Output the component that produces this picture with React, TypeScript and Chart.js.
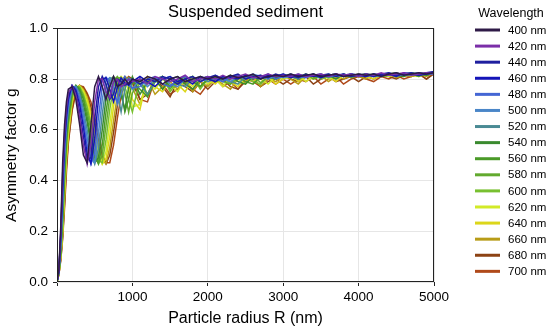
import React, { useEffect, useRef } from 'react';
import { Chart, registerables } from 'chart.js';

Chart.register(...registerables);

// Particle radius grid (nm)
const radiusNm = [
  0, 25, 50, 75, 100, 125, 150, 200, 250, 300, 350, 400, 450, 500, 550, 600, 650, 700, 750, 800, 850, 900, 950, 1000,
  1100, 1200, 1300, 1400, 1500, 1600, 1700, 1800, 1900, 2000,
  2100, 2200, 2300, 2400, 2500, 2600, 2700, 2800, 2900, 3000,
  3100, 3200, 3300, 3400, 3500, 3600, 3700, 3800, 3900, 4000,
  4100, 4200, 4300, 4400, 4500, 4600, 4700, 4800, 4900, 5000,
];

const wavelengthLabels = [
  '400 nm', '420 nm', '440 nm', '460 nm', '480 nm', '500 nm', '520 nm', '540 nm',
  '560 nm', '580 nm', '600 nm', '620 nm', '640 nm', '660 nm', '680 nm', '700 nm',
];

const wavelengthColors = [
  '#2e1a47', '#7b2fa8', '#1f1f9f', '#1414b8', '#4466d4', '#4a86c8', '#4a8a94', '#3a8a2e',
  '#4a9a28', '#62aa2e', '#78c030', '#d2ea28', '#dcd61a', '#b89c18', '#8c4214', '#b04a1a',
];

const g400 = [0, 0.05, 0.22, 0.47, 0.62, 0.71, 0.76, 0.77, 0.72, 0.62, 0.50, 0.47, 0.62, 0.77, 0.81, 0.77, 0.72, 0.77, 0.81, 0.77, 0.78, 0.80, 0.78, 0.80,
  0.79, 0.81, 0.80, 0.78, 0.80, 0.81, 0.79, 0.80, 0.81, 0.80,
  0.81, 0.80, 0.815, 0.805, 0.81, 0.82, 0.80, 0.81, 0.815, 0.81,
  0.82, 0.81, 0.815, 0.82, 0.81, 0.815, 0.82, 0.81, 0.815, 0.82,
  0.815, 0.82, 0.81, 0.82, 0.825, 0.815, 0.82, 0.825, 0.82, 0.825];
const g420 = [0, 0.046, 0.20, 0.43, 0.59, 0.69, 0.745, 0.772, 0.735, 0.65, 0.54, 0.465, 0.54, 0.71, 0.80, 0.80, 0.75, 0.725, 0.79, 0.80, 0.77, 0.78, 0.80, 0.79,
  0.80, 0.78, 0.81, 0.80, 0.79, 0.80, 0.815, 0.79, 0.80, 0.81,
  0.80, 0.815, 0.80, 0.81, 0.82, 0.805, 0.81, 0.82, 0.81, 0.815,
  0.81, 0.82, 0.81, 0.815, 0.82, 0.81, 0.82, 0.815, 0.82, 0.81,
  0.82, 0.815, 0.825, 0.815, 0.82, 0.825, 0.815, 0.82, 0.825, 0.82];
const g440 = [0, 0.045, 0.19, 0.40, 0.57, 0.67, 0.735, 0.774, 0.75, 0.67, 0.575, 0.48, 0.49, 0.64, 0.77, 0.81, 0.78, 0.72, 0.74, 0.80, 0.79, 0.775, 0.785, 0.80,
  0.78, 0.80, 0.79, 0.81, 0.80, 0.78, 0.80, 0.81, 0.79, 0.805,
  0.815, 0.80, 0.81, 0.82, 0.80, 0.81, 0.815, 0.805, 0.82, 0.81,
  0.815, 0.805, 0.82, 0.81, 0.815, 0.82, 0.81, 0.82, 0.81, 0.815,
  0.82, 0.81, 0.82, 0.825, 0.815, 0.82, 0.825, 0.815, 0.825, 0.83];
const g460 = [0, 0.043, 0.18, 0.37, 0.55, 0.65, 0.72, 0.775, 0.756, 0.70, 0.61, 0.505, 0.467, 0.565, 0.72, 0.80, 0.805, 0.76, 0.71, 0.765, 0.805, 0.785, 0.775, 0.79,
  0.81, 0.79, 0.77, 0.80, 0.81, 0.79, 0.80, 0.78, 0.81, 0.80,
  0.79, 0.81, 0.805, 0.80, 0.815, 0.81, 0.80, 0.815, 0.81, 0.82,
  0.805, 0.815, 0.81, 0.82, 0.805, 0.815, 0.82, 0.81, 0.82, 0.815,
  0.81, 0.82, 0.815, 0.82, 0.81, 0.825, 0.82, 0.815, 0.82, 0.825];
const g480 = [0, 0.042, 0.165, 0.345, 0.52, 0.635, 0.71, 0.77, 0.763, 0.72, 0.635, 0.54, 0.465, 0.51, 0.65, 0.77, 0.807, 0.79, 0.74, 0.71, 0.785, 0.81, 0.775, 0.765,
  0.77, 0.80, 0.81, 0.78, 0.77, 0.80, 0.81, 0.79, 0.80, 0.81,
  0.80, 0.79, 0.81, 0.815, 0.80, 0.81, 0.805, 0.82, 0.80, 0.81,
  0.82, 0.81, 0.805, 0.815, 0.82, 0.81, 0.815, 0.82, 0.81, 0.82,
  0.815, 0.81, 0.82, 0.815, 0.825, 0.815, 0.82, 0.825, 0.82, 0.825];
const g500 = [0, 0.04, 0.15, 0.32, 0.50, 0.62, 0.69, 0.765, 0.77, 0.73, 0.66, 0.57, 0.485, 0.47, 0.585, 0.72, 0.795, 0.805, 0.77, 0.70, 0.74, 0.795, 0.80, 0.76,
  0.80, 0.77, 0.80, 0.81, 0.78, 0.77, 0.80, 0.81, 0.79, 0.80,
  0.815, 0.80, 0.79, 0.81, 0.805, 0.82, 0.81, 0.80, 0.815, 0.805,
  0.81, 0.82, 0.81, 0.815, 0.805, 0.82, 0.81, 0.815, 0.82, 0.81,
  0.82, 0.815, 0.81, 0.825, 0.815, 0.82, 0.815, 0.825, 0.82, 0.82];
const g520 = [0, 0.038, 0.14, 0.30, 0.48, 0.60, 0.675, 0.762, 0.772, 0.745, 0.68, 0.60, 0.51, 0.465, 0.525, 0.66, 0.77, 0.805, 0.80, 0.75, 0.67, 0.76, 0.805, 0.795,
  0.78, 0.74, 0.79, 0.80, 0.81, 0.78, 0.77, 0.80, 0.81, 0.79,
  0.80, 0.81, 0.79, 0.78, 0.81, 0.80, 0.815, 0.80, 0.81, 0.82,
  0.81, 0.80, 0.815, 0.81, 0.82, 0.805, 0.815, 0.81, 0.82, 0.815,
  0.81, 0.82, 0.815, 0.82, 0.81, 0.82, 0.825, 0.815, 0.825, 0.82];
const g540 = [0, 0.037, 0.13, 0.275, 0.46, 0.58, 0.67, 0.757, 0.774, 0.752, 0.70, 0.63, 0.54, 0.47, 0.49, 0.60, 0.725, 0.795, 0.81, 0.78, 0.735, 0.68, 0.765, 0.81,
  0.74, 0.79, 0.80, 0.76, 0.80, 0.81, 0.78, 0.76, 0.80, 0.81,
  0.79, 0.80, 0.815, 0.79, 0.78, 0.81, 0.80, 0.815, 0.805, 0.81,
  0.82, 0.805, 0.81, 0.82, 0.81, 0.815, 0.80, 0.82, 0.81, 0.815,
  0.82, 0.81, 0.815, 0.82, 0.815, 0.81, 0.825, 0.82, 0.815, 0.825];
const g560 = [0, 0.036, 0.12, 0.255, 0.43, 0.565, 0.645, 0.745, 0.775, 0.76, 0.72, 0.65, 0.565, 0.49, 0.467, 0.54, 0.67, 0.77, 0.806, 0.80, 0.76, 0.67, 0.72, 0.79,
  0.76, 0.73, 0.80, 0.81, 0.77, 0.79, 0.81, 0.79, 0.77, 0.80,
  0.81, 0.79, 0.80, 0.81, 0.79, 0.78, 0.81, 0.805, 0.80, 0.815,
  0.81, 0.80, 0.82, 0.81, 0.805, 0.815, 0.82, 0.81, 0.815, 0.81,
  0.82, 0.815, 0.81, 0.82, 0.825, 0.815, 0.82, 0.81, 0.825, 0.82];
const g580 = [0, 0.035, 0.115, 0.24, 0.41, 0.55, 0.63, 0.735, 0.773, 0.765, 0.73, 0.67, 0.60, 0.51, 0.465, 0.50, 0.615, 0.73, 0.79, 0.81, 0.79, 0.745, 0.67, 0.745,
  0.80, 0.73, 0.79, 0.81, 0.76, 0.80, 0.78, 0.81, 0.77, 0.80,
  0.81, 0.79, 0.78, 0.81, 0.80, 0.815, 0.785, 0.81, 0.80, 0.815,
  0.805, 0.81, 0.82, 0.80, 0.81, 0.815, 0.81, 0.82, 0.805, 0.815,
  0.82, 0.81, 0.815, 0.82, 0.81, 0.82, 0.815, 0.825, 0.815, 0.825];
const g600 = [0, 0.033, 0.11, 0.22, 0.39, 0.52, 0.62, 0.725, 0.77, 0.77, 0.74, 0.69, 0.62, 0.54, 0.48, 0.47, 0.56, 0.68, 0.77, 0.805, 0.805, 0.77, 0.72, 0.67,
  0.80, 0.74, 0.79, 0.81, 0.75, 0.79, 0.80, 0.81, 0.76, 0.80,
  0.80, 0.81, 0.78, 0.80, 0.815, 0.79, 0.78, 0.81, 0.80, 0.81,
  0.815, 0.80, 0.81, 0.82, 0.80, 0.81, 0.815, 0.81, 0.82, 0.81,
  0.815, 0.82, 0.81, 0.815, 0.82, 0.81, 0.825, 0.815, 0.82, 0.82];
const g620 = [0, 0.032, 0.105, 0.21, 0.37, 0.505, 0.60, 0.72, 0.767, 0.772, 0.75, 0.705, 0.64, 0.565, 0.495, 0.465, 0.515, 0.625, 0.73, 0.79, 0.81, 0.795, 0.755, 0.69,
  0.70, 0.79, 0.76, 0.80, 0.78, 0.75, 0.80, 0.77, 0.81, 0.78,
  0.80, 0.77, 0.81, 0.80, 0.78, 0.81, 0.80, 0.78, 0.81, 0.80,
  0.81, 0.815, 0.79, 0.81, 0.82, 0.80, 0.81, 0.815, 0.81, 0.82,
  0.81, 0.815, 0.82, 0.81, 0.82, 0.815, 0.82, 0.81, 0.825, 0.82];
const g640 = [0, 0.031, 0.10, 0.20, 0.345, 0.49, 0.585, 0.71, 0.763, 0.773, 0.755, 0.72, 0.66, 0.59, 0.515, 0.465, 0.485, 0.575, 0.69, 0.77, 0.802, 0.805, 0.78, 0.72,
  0.68, 0.81, 0.77, 0.75, 0.80, 0.78, 0.75, 0.80, 0.77, 0.80,
  0.78, 0.81, 0.79, 0.77, 0.81, 0.79, 0.805, 0.81, 0.78, 0.80,
  0.815, 0.79, 0.81, 0.80, 0.815, 0.81, 0.79, 0.815, 0.81, 0.82,
  0.81, 0.80, 0.815, 0.82, 0.81, 0.82, 0.815, 0.81, 0.82, 0.825];
const g660 = [0, 0.03, 0.095, 0.19, 0.33, 0.475, 0.57, 0.70, 0.76, 0.775, 0.76, 0.73, 0.67, 0.615, 0.54, 0.48, 0.467, 0.53, 0.635, 0.735, 0.79, 0.81, 0.80, 0.765,
  0.70, 0.80, 0.74, 0.77, 0.79, 0.76, 0.80, 0.75, 0.79, 0.77,
  0.80, 0.78, 0.76, 0.80, 0.79, 0.81, 0.77, 0.80, 0.79, 0.81,
  0.80, 0.78, 0.81, 0.80, 0.815, 0.79, 0.81, 0.80, 0.815, 0.81,
  0.80, 0.815, 0.81, 0.82, 0.805, 0.815, 0.81, 0.82, 0.81, 0.825];
const g680 = [0, 0.03, 0.09, 0.18, 0.31, 0.455, 0.555, 0.68, 0.755, 0.775, 0.765, 0.74, 0.69, 0.63, 0.56, 0.495, 0.465, 0.50, 0.59, 0.695, 0.77, 0.80, 0.807, 0.785,
  0.72, 0.74, 0.80, 0.77, 0.73, 0.79, 0.77, 0.75, 0.79, 0.76,
  0.79, 0.80, 0.77, 0.76, 0.79, 0.80, 0.77, 0.79, 0.80, 0.78,
  0.80, 0.79, 0.81, 0.78, 0.80, 0.81, 0.79, 0.80, 0.81, 0.79,
  0.81, 0.80, 0.815, 0.81, 0.80, 0.815, 0.81, 0.82, 0.80, 0.82];
const g700 = [0, 0.029, 0.085, 0.17, 0.29, 0.43, 0.545, 0.675, 0.745, 0.773, 0.77, 0.745, 0.71, 0.65, 0.59, 0.515, 0.47, 0.47, 0.54, 0.645, 0.735, 0.79, 0.81, 0.80,
  0.72, 0.71, 0.80, 0.78, 0.74, 0.76, 0.79, 0.76, 0.74, 0.78,
  0.80, 0.77, 0.79, 0.76, 0.80, 0.79, 0.77, 0.80, 0.78, 0.80,
  0.78, 0.80, 0.79, 0.81, 0.78, 0.80, 0.81, 0.78, 0.80, 0.81,
  0.80, 0.79, 0.81, 0.80, 0.815, 0.80, 0.81, 0.82, 0.80, 0.825];

const seriesValues = [g400, g420, g440, g460, g480, g500, g520, g540, g560, g580, g600, g620, g640, g660, g680, g700];

const yTicks = [0, 0.2, 0.4, 0.6, 0.8, 1.0];
const xTickStep = 1000;

const FONT = '"Liberation Sans", Arial, Helvetica, sans-serif';

export default function App() {
  const ref = useRef<HTMLCanvasElement>(null);

  useEffect(() => {
    document.body.style.margin = '0';
    if (!ref.current) return;

    const framePlugin = {
      id: 'frameBox',
      afterDatasetsDraw(chart: any) {
        const { ctx, chartArea } = chart;
        ctx.save();
        ctx.strokeStyle = '#222';
        ctx.lineWidth = 1;
        const l = Math.round(chartArea.left) + 0.5;
        const t = Math.round(chartArea.top) + 0.5;
        const r = Math.round(chartArea.right) - 0.5;
        const b = Math.round(chartArea.bottom) - 0.5;
        ctx.strokeRect(l, t, r - l, b - t);
        ctx.restore();
      },
    };

    const legendPlugin = {
      id: 'sideLegend',
      afterDraw(chart: any) {
        const { ctx, chartArea } = chart;
        const x0 = chartArea.right + 41;
        ctx.save();
        ctx.fillStyle = '#000';
        ctx.textBaseline = 'middle';
        ctx.textAlign = 'center';
        ctx.font = `12.5px ${FONT}`;
        ctx.fillText('Wavelength', x0 + 36, 13.5);
        ctx.textAlign = 'left';
        ctx.font = `11.5px ${FONT}`;
        chart.data.datasets.forEach((ds: any, i: number) => {
          const y = 30 + i * 16.09;
          ctx.strokeStyle = ds.borderColor;
          ctx.lineWidth = 3;
          ctx.beginPath();
          ctx.moveTo(x0, y);
          ctx.lineTo(x0 + 25, y);
          ctx.stroke();
          ctx.fillText(ds.label, x0 + 33, y + 0.5);
        });
        ctx.restore();
      },
    };

    const datasets = wavelengthLabels.map((label, i) => ({
      label,
      data: radiusNm.map((r, j) => ({ x: r, y: seriesValues[i][j] })),
      borderColor: wavelengthColors[i],
      backgroundColor: wavelengthColors[i],
      borderWidth: 1.5,
      pointRadius: 0,
      fill: false,
      tension: 0,
    }));

    const chart = new Chart(ref.current, {
      type: 'line',
      data: { datasets },
      options: {
        animation: false,
        responsive: false,
        devicePixelRatio: 1,
        layout: { padding: { left: 0, right: 116, top: 0, bottom: 0 } },
        plugins: {
          legend: { display: false },
          tooltip: { enabled: false },
          title: {
            display: true,
            text: 'Suspended sediment',
            color: '#000',
            fullSize: false,
            font: { size: 16.5, family: FONT, weight: 'normal' },
            padding: { top: 3, bottom: 5.5 },
          },
        },
        scales: {
          x: {
            type: 'linear',
            min: 0,
            max: 5000,
            afterFit: (s: any) => { s.height = 47; },
            ticks: {
              stepSize: xTickStep,
              color: '#000',
              font: { size: 13.5, family: FONT },
              padding: 3,
              maxRotation: 0,
              callback: (v: any) => (v === 0 ? '' : String(v)),
            },
            grid: { color: '#e6e6e6', tickColor: '#222', tickLength: 4, lineWidth: 1 },
            border: { display: false },
            title: {
              display: true,
              text: 'Particle radius R (nm)',
              color: '#000',
              font: { size: 16, family: FONT },
              padding: { top: 0, bottom: 1 },
            },
          },
          y: {
            min: 0,
            max: 1,
            afterFit: (s: any) => { s.width = 57; },
            afterBuildTicks: (s: any) => { s.ticks = yTicks.map((v) => ({ value: v })); },
            ticks: {
              color: '#000',
              font: { size: 13.5, family: FONT },
              padding: 5,
              callback: (v: any) => Number(v).toFixed(1),
            },
            grid: { color: '#e6e6e6', tickColor: '#222', tickLength: 4, lineWidth: 1 },
            border: { display: false },
            title: {
              display: true,
              text: 'Asymmetry factor g',
              color: '#000',
              font: { size: 15.5, family: FONT },
              padding: { top: 2, bottom: 0 },
            },
          },
        },
      },
      plugins: [framePlugin, legendPlugin],
    });

    return () => chart.destroy();
  }, []);

  return (
    <div style={{ width: 550, height: 329, position: 'relative', background: '#fff' }}>
      <canvas ref={ref} width={550} height={329} style={{ display: 'block' }} />
    </div>
  );
}
